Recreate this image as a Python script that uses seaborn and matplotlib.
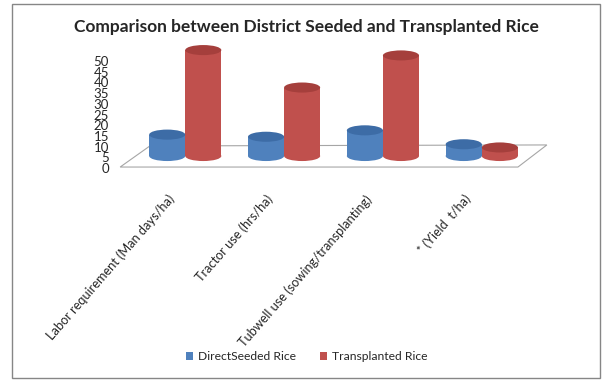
import pandas as pd
import seaborn as sns
import matplotlib.pyplot as plt
from matplotlib.patches import Ellipse, Polygon, Rectangle
from matplotlib.transforms import ScaledTranslation

# data
categories = [
    "Labor requirement (Man days/ha)",
    "Tractor use (hrs/ha)",
    "Tubwell use (sowing/transplanting)",
    "* (Yield  t/ha)",
]
direct_seeded = [10, 9, 12, 5.5]
transplanted = [49.5, 32, 47, 4]
series = ["DirectSeeded Rice", "Transplanted Rice"]
y_ticks = list(range(0, 55, 5))

colors = ["#4F81BD", "#C0504D"]
cap_colors = ["#3D6CA6", "#A53F3C"]

df = pd.DataFrame({
    "category": categories * 2,
    "series": [series[0]] * len(categories) + [series[1]] * len(categories),
    "value": direct_seeded + transplanted,
})

sns.set_theme(style="white")
plt.rcParams['font.family'] = ['Lato', 'DejaVu Sans']

fig = plt.figure(figsize=(6.13, 3.85), dpi=100)
ax = fig.add_axes([0.1974, 0.5642, 0.6933, 0.3224])

sns.barplot(data=df, x="category", y="value", hue="series", palette=colors,
            width=0.73, saturation=1, linewidth=0, zorder=3, ax=ax)

# cylinder caps on top and bottom of every bar
cap_h = 4.7
for i, cont in enumerate(ax.containers):
    for bar in cont:
        cx = bar.get_x() + bar.get_width() / 2
        w = bar.get_width()
        ax.add_patch(Ellipse((cx, 0), w, cap_h, fc=colors[i], lw=0, zorder=2.9))
        ax.add_patch(Ellipse((cx, bar.get_height()), w, cap_h, fc=cap_colors[i],
                             lw=0, zorder=3.1))

# 3d-ish floor outline
ax.add_patch(Polygon([(-0.002, 0.006), (0.934, 0.006), (1.002, 0.184), (0.068, 0.176)],
                     closed=True, fill=False, ec='#A6A6A6', lw=0.8,
                     transform=ax.transAxes, clip_on=False, zorder=1))

ax.set_ylim(-5.5, 52.5)
ax.set_xlim(-0.65, 3.65)
ax.set_yticks(y_ticks)
ax.set_yticklabels([str(t) for t in y_ticks], fontsize=9.5)
ax.set_xticks(range(len(categories)))
ax.set_xticklabels(categories, rotation=49, ha='right', rotation_mode='anchor', fontsize=9.2)
ax.tick_params(axis='y', length=0, pad=8.6)
ax.tick_params(axis='x', length=0, pad=18)
ax.set_xlabel('')
ax.set_ylabel('')
for s in ax.spines.values():
    s.set_visible(False)

for lab in ax.get_yticklabels():
    lab.set_transform(lab.get_transform() + ScaledTranslation(0, -0.12, fig.dpi_scale_trans))
for lab in ax.get_xticklabels():
    lab.set_transform(lab.get_transform() + ScaledTranslation(-0.18, 0, fig.dpi_scale_trans))

handles, labels = ax.get_legend_handles_labels()
ax.get_legend().remove()
fig.legend(handles, labels, loc='center', bbox_to_anchor=(0.5, 0.073), ncol=2,
           frameon=False, fontsize=8.7, handlelength=0.6, handleheight=0.6,
           handletextpad=0.4, columnspacing=2.0)

fig.text(306 / 613, 1 - 27 / 385, "Comparison between District Seeded and Transplanted Rice",
         ha='center', va='center', fontsize=12.5, fontweight='bold')

fig.add_artist(Rectangle((0.0196, 0.0182), 0.959, 0.971, transform=fig.transFigure,
                         fill=False, ec='#868686', lw=1))

fig.savefig("out.png", dpi=100)
